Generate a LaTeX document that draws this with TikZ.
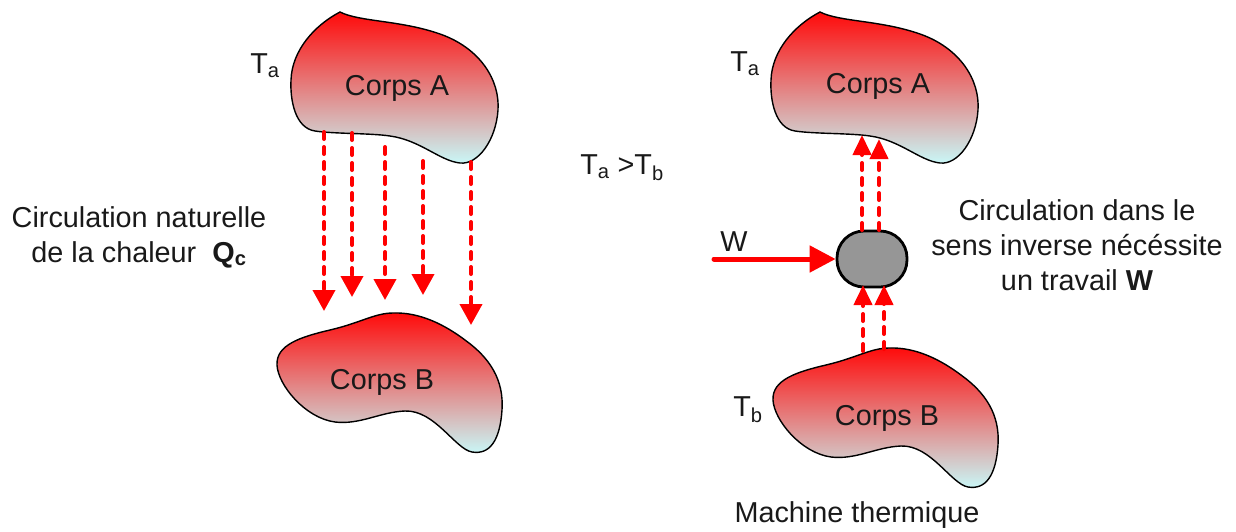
\documentclass[tikz,border=0pt]{standalone}
\usepackage{fontspec}
\setmainfont{Liberation Sans}
\usetikzlibrary{arrows.meta}
\definecolor{blobtop}{RGB}{255,10,10}
\definecolor{blobbot}{RGB}{200,250,250}
\definecolor{machgray}{RGB}{150,150,150}
\definecolor{txt}{RGB}{25,25,25}
\tikzset{
  blob/.style={draw=black, line width=1.4pt, top color=blobtop, bottom color=blobbot},
  lbl/.style={text=txt, font=\fontsize{28.8}{35}\selectfont, inner sep=0pt, align=center},
  heat/.style={draw=red, line width=4pt, line cap=round, dash pattern=on 7pt off 8pt,
    -{Triangle[width=22pt,length=21pt]}},
  heatr/.style={draw=red, line width=4pt, line cap=round, dash pattern=on 7pt off 8pt,
    -{Triangle[width=18pt,length=20pt]}},
  work/.style={draw=red, line width=5pt, line cap=round, -{Triangle[width=26pt,length=26pt]}},
  machine/.style={draw=black, line width=2.8pt, fill=machgray, rounded corners=27pt,
    minimum width=70pt, minimum height=56pt, inner sep=0pt}
}
\newcommand{\blobA}{%
  (340,12) .. controls (360,22) and (400,20) .. (440,34)
  .. controls (480,48) and (500,80) .. (498,110)
  .. controls (496,140) and (478,165) .. (460,163)
  .. controls (440,161) and (420,140) .. (390,136)
  .. controls (370,133) and (335,134) .. (315,131)
  .. controls (295,128) and (290,100) .. (291,80)
  .. controls (292,50) and (315,25) .. (340,12) -- cycle}
\newcommand{\blobB}{%
  (393,313) .. controls (420,312) and (445,325) .. (465,340)
  .. controls (490,358) and (504,380) .. (502,410)
  .. controls (500,440) and (490,455) .. (472,452)
  .. controls (455,449) and (435,410) .. (405,411)
  .. controls (380,412) and (360,425) .. (335,422)
  .. controls (305,418) and (278,385) .. (277,365)
  .. controls (276,345) and (300,337) .. (330,330)
  .. controls (360,323) and (375,313) .. (393,313) -- cycle}
\begin{document}
\begin{tikzpicture}[x=1pt,y=-1pt]
\useasboundingbox (0,0) rectangle (1236,531);
% left bodies
\path[blob] \blobA;
\path[blob] \blobB;
% right bodies
\begin{scope}[shift={(480,0)}]
  \path[blob] \blobA;
\end{scope}
\begin{scope}[shift={(496,35)}]
  \path[blob] \blobB;
\end{scope}
% labels
\node[lbl] (cAl) at (397,88) {Corps A};
\node[lbl] (cBl) at (382,382) {Corps B};
\node[lbl] (cAr) at (878,86) {Corps A};
\node[lbl] (cBr) at (887,418) {Corps B};
\node[lbl] (tal) at (265,66) {T\textsubscript{a}};
\node[lbl] (tar) at (745,64) {T\textsubscript{a}};
\node[lbl] (tbr) at (748,410) {T\textsubscript{b}};
\node[lbl] (cmp) at (622,168) {T\textsubscript{a} {>}T\textsubscript{b}};
\node[lbl] (natl) at (139,237) {Circulation naturelle\\de la chaleur\ \ \textbf{Q\textsubscript{c}}};
\node[lbl] (invl) at (1077,245) {Circulation dans le\\sens inverse nécéssite\\un travail \textbf{W}};
\node[lbl] (wl) at (734,242) {W};
\node[lbl] (mt) at (857,515) {Machine thermique};
% machine
\node[machine] (mach) at (872,259) {};
% left natural heat flow
\coordinate (s1) at (324,132); \coordinate (e1) at (324,311);
\coordinate (s2) at (352,133); \coordinate (e2) at (352,297);
\coordinate (s3) at (385,147); \coordinate (e3) at (385,300);
\coordinate (s4) at (423,161); \coordinate (e4) at (423,295);
\coordinate (s5) at (471,162); \coordinate (e5) at (471,325);
\draw[heat] (s1) -- (e1);
\draw[heat] (s2) -- (e2);
\draw[heat] (s3) -- (e3);
\draw[heat] (s4) -- (e4);
\draw[heat] (s5) -- (e5);
% right reverse flow
\coordinate (u1) at (862,230); \coordinate (v1) at (862,135);
\coordinate (u2) at (879,230); \coordinate (v2) at (879,139);
\coordinate (b1) at (863,351); \coordinate (m1) at (863,285);
\coordinate (b2) at (884,349); \coordinate (m2) at (884,285);
\draw[heatr] (u1) -- (v1);
\draw[heatr] (u2) -- (v2);
\draw[heatr] (b1) -- (m1);
\draw[heatr] (b2) -- (m2);
% work input
\coordinate (w0) at (714,259);
\draw[work] (w0) -- (mach.west);
\end{tikzpicture}
\end{document}
